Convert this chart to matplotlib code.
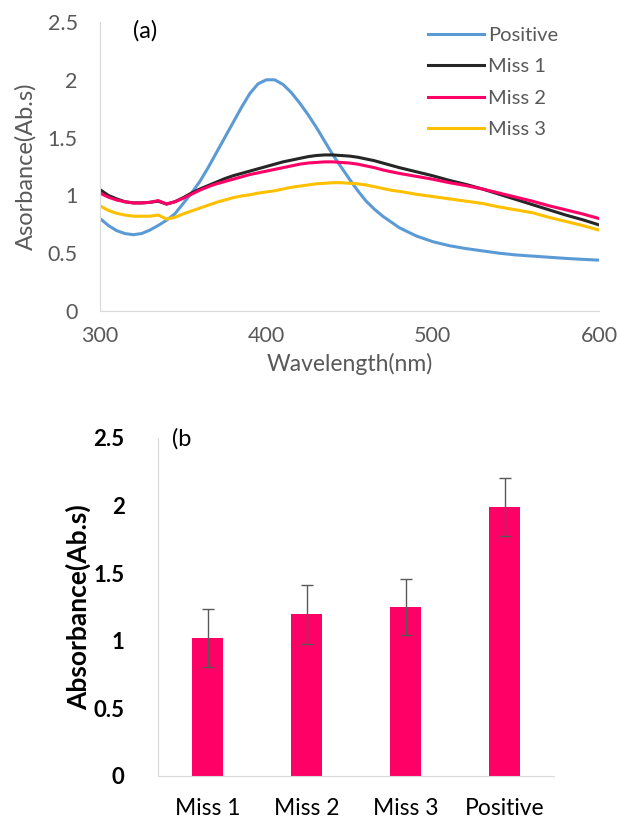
import numpy as np
import matplotlib
matplotlib.use("Agg")
from matplotlib import pyplot as plt

plt.rcParams['font.family'] = ['Lato', 'DejaVu Sans']

# (a) spectra
wl = list(range(300, 481, 5)) + list(range(490, 601, 10))
positive = [0.80, 0.74, 0.695, 0.67, 0.66, 0.67, 0.70, 0.74, 0.785, 0.84, 0.93, 1.02, 1.12,
            1.24, 1.37, 1.50, 1.63, 1.76, 1.88, 1.965, 2.0, 2.0, 1.96, 1.89, 1.80, 1.70,
            1.59, 1.47, 1.35, 1.245, 1.14, 1.04, 0.95, 0.88, 0.82, 0.77, 0.72,
            0.65, 0.60, 0.565, 0.54, 0.52, 0.50, 0.485, 0.475, 0.465, 0.455, 0.447, 0.44]
miss1 = [1.05, 1.00, 0.97, 0.945, 0.935, 0.935, 0.94, 0.95, 0.925, 0.945, 0.98, 1.02, 1.055,
         1.085, 1.115, 1.145, 1.17, 1.19, 1.21, 1.23, 1.25, 1.27, 1.29, 1.305, 1.32, 1.335,
         1.345, 1.35, 1.35, 1.345, 1.34, 1.33, 1.315, 1.30, 1.28, 1.26, 1.24,
         1.205, 1.17, 1.13, 1.095, 1.055, 1.01, 0.965, 0.92, 0.875, 0.83, 0.79, 0.745]
miss2 = [1.02, 0.985, 0.96, 0.945, 0.935, 0.935, 0.94, 0.955, 0.925, 0.945, 0.975, 1.01, 1.045,
         1.075, 1.10, 1.12, 1.14, 1.16, 1.18, 1.195, 1.21, 1.225, 1.24, 1.255, 1.27, 1.28,
         1.285, 1.29, 1.29, 1.285, 1.28, 1.27, 1.255, 1.24, 1.22, 1.205, 1.19,
         1.165, 1.14, 1.11, 1.085, 1.055, 1.02, 0.985, 0.95, 0.91, 0.875, 0.84, 0.80]
miss3 = [0.91, 0.87, 0.845, 0.83, 0.82, 0.82, 0.82, 0.83, 0.795, 0.81, 0.84, 0.865, 0.89,
         0.915, 0.94, 0.96, 0.98, 0.995, 1.005, 1.02, 1.03, 1.04, 1.055, 1.07, 1.08, 1.09,
         1.10, 1.105, 1.11, 1.11, 1.105, 1.10, 1.09, 1.075, 1.06, 1.045, 1.035,
         1.01, 0.99, 0.97, 0.95, 0.93, 0.90, 0.875, 0.85, 0.81, 0.775, 0.74, 0.70]

# (b) bars
groups = ['Miss 1', 'Miss 2', 'Miss 3', 'Positive']
means = [1.02, 1.195, 1.25, 1.99]
errs = [0.215, 0.215, 0.21, 0.215]

gray = '#595959'
spine = '#d9d9d9'
ticks = [0, 0.5, 1, 1.5, 2, 2.5]
tick_txt = ['0', '0.5', '1', '1.5', '2', '2.5']

fig = plt.figure(figsize=(6.17, 8.19), dpi=100)

ax = fig.add_axes([100/617, 1 - 311/819, 499/617, 289/819])
ax.plot(wl, positive, color='#5b9bd5', lw=2.2, label='Positive')
ax.plot(wl, miss1, color='#262626', lw=2.2, label='Miss 1')
ax.plot(wl, miss2, color='#ff0066', lw=2.2, label='Miss 2')
ax.plot(wl, miss3, color='#ffc000', lw=2.2, label='Miss 3')
ax.set_xlim(300, 600)
ax.set_ylim(0, 2.5)
ax.set_xticks([300, 400, 500, 600])
ax.set_yticks(ticks)
ax.set_yticklabels(tick_txt)
ax.tick_params(length=0, labelsize=15.5, colors=gray)
ax.tick_params(axis='x', pad=11)
ax.tick_params(axis='y', pad=16)
for s in ['top', 'right']:
    ax.spines[s].set_visible(False)
for s in ['left', 'bottom']:
    ax.spines[s].set_color(spine)
ax.set_xlabel('Wavelength(nm)', fontsize=16.5, color=gray, labelpad=5)
ax.set_ylabel('Asorbance(Ab.s)', fontsize=17, color=gray, labelpad=8)
ax.text(0.066, 1.005, '(a)', transform=ax.transAxes, fontsize=17, color='black',
        va='top', ha='left')
ax.legend(loc='upper right', frameon=False, fontsize=14.5, handlelength=2.8,
          handletextpad=0.2, labelspacing=0.7, borderaxespad=0.0,
          labelcolor=gray, bbox_to_anchor=(0.935, 1.01))

bx = fig.add_axes([158/617, 1 - 776/819, 396/617, 338/819])
x = np.arange(len(groups))
bx.bar(x, means, width=0.31, color='#ff0066', yerr=errs,
       error_kw=dict(ecolor='#595959', elinewidth=1, capsize=4, capthick=1))
bx.set_xlim(-0.5, 3.5)
bx.set_ylim(0, 2.5)
bx.set_xticks(x)
bx.set_xticklabels(groups, fontsize=16.5, color='black')
bx.set_yticks(ticks)
bx.set_yticklabels(tick_txt, fontsize=16, fontweight='bold', color='black')
bx.tick_params(length=0)
bx.tick_params(axis='x', pad=16)
bx.tick_params(axis='y', pad=24)
for s in ['top', 'right']:
    bx.spines[s].set_visible(False)
for s in ['left', 'bottom']:
    bx.spines[s].set_color(spine)
bx.set_ylabel('Absorbance(Ab.s)', fontsize=19, fontweight='bold', color='black',
              labelpad=2)
bx.text(0.035, 1.03, '(b', transform=bx.transAxes, fontsize=17, color='black',
        va='top', ha='left')

fig.savefig('out.png', dpi=100)
